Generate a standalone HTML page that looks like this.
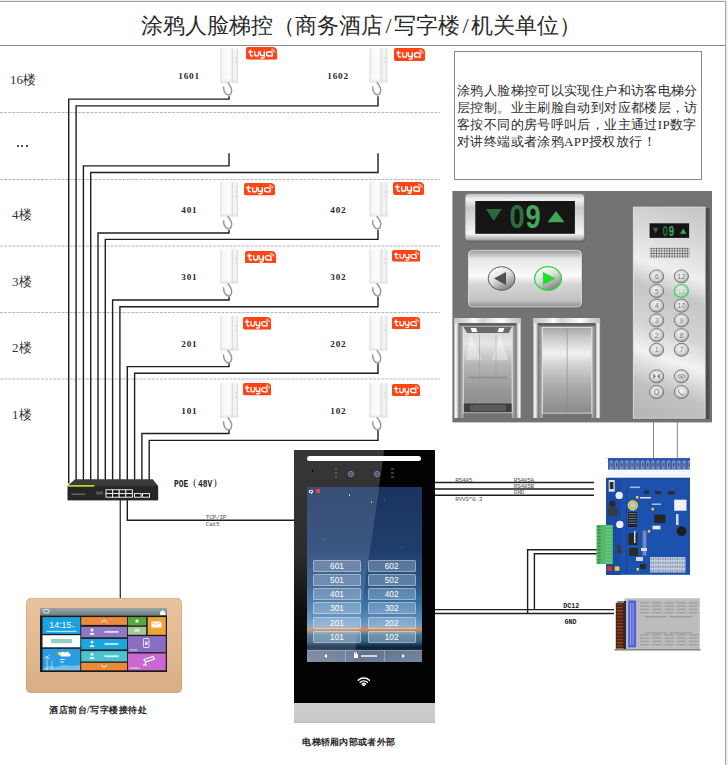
<!DOCTYPE html>
<html><head><meta charset="utf-8">
<style>
*{margin:0;padding:0;box-sizing:border-box}
html,body{width:728px;height:765px;overflow:hidden;background:#fff}
body{position:relative;font-family:"Liberation Serif",serif;color:#222}
.a{position:absolute}
.pb{position:absolute;width:48px;height:12px;border:1px solid rgba(255,255,255,0.36);border-radius:1.5px;background:rgba(215,225,242,0.3);color:#fff;font-family:"Liberation Sans",sans-serif;font-size:8.3px;line-height:10px;text-align:center}
.fl{position:absolute;left:10px;font-size:13px;line-height:13px;color:#333}
.rm{position:absolute;font-size:9.2px;line-height:10px;font-weight:bold;color:#2a2a2a;letter-spacing:0.85px}
.hs{position:absolute;width:18px;height:35px;border-radius:1px;
 background:linear-gradient(90deg,#e4e4e4 0,#f8f8f8 15%,#fdfdfd 50%,#ececec 66%,#d8d8d8 68%,#f4f4f4 72%,#f0f0f0 92%,#dcdcdc 100%)}
.hs:after{content:"";position:absolute;left:0;right:0;bottom:0;height:5px;background:linear-gradient(#f2f2f2,#e2e2e2)}
.cord{position:absolute;width:10px;height:14px}
.tuya{position:absolute;width:31px;height:13px;background:#ff4a14;border-radius:2px 4px 2px 2px;color:#fff;
 font-family:"Liberation Sans",sans-serif;font-weight:bold;font-size:10.5px;line-height:12px;text-align:center;letter-spacing:0.3px;padding-right:2px}
</style></head><body>

<!-- frame lines -->
<div class="a" style="left:0;top:0;width:728px;height:1px;background:#eef0f4"></div>
<div class="a" style="left:0;top:1.2px;width:726px;height:1.1px;background:#a2a2a2"></div>
<div class="a" style="left:0;top:45px;width:726px;height:1px;background:#8a8a8a"></div>
<div class="a" style="left:725px;top:1px;width:1.3px;height:764px;background:#a4a4a4"></div>
<div class="a" style="left:726.3px;top:0;width:1.7px;height:765px;background:#eef0f4"></div>

<div class="a" style="left:141px;top:13px;font-size:22px;line-height:26px;color:#2a2a2a;white-space:nowrap">涂鸦人脸梯控（商务酒店<span style="margin:0 2.45px">/</span>写字楼<span style="margin:0 2.45px">/</span>机关单位）</div>

<!-- dashed floor lines -->
<svg class="a" style="left:0;top:0" width="728" height="765">
<g stroke="#b8b8b8" stroke-width="1" stroke-dasharray="3 1.1">
<line x1="0" y1="112.5" x2="440" y2="112.5"/>
<line x1="0" y1="179.5" x2="440" y2="179.5"/>
<line x1="0" y1="246" x2="440" y2="246"/>
<line x1="0" y1="312.5" x2="440" y2="312.5"/>
<line x1="0" y1="379" x2="440" y2="379"/>
</g>
<g fill="none" stroke="#1e1e1e" stroke-width="1.4">
<path d="M229 96.2V99.1H68.7V483.5"/>
<path d="M378 96.2V105.9H76.1V481"/>
<path d="M229 153.2V165.9H83.4V481"/>
<path d="M378 153.2V172.5H90.7V481"/>
<path d="M229 229.8V233.0H98.0V481"/>
<path d="M378 229.8V239.4H105.3V481"/>
<path d="M229 296.5V300.0H112.6V481"/>
<path d="M378 296.5V306.8H119.9V481"/>
<path d="M229 363.2V366.6H127.3V481"/>
<path d="M378 363.2V373.3H134.6V481"/>
<path d="M229 430.0V433.5H141.9V481"/>
<path d="M378 430.0V440.4H149.2V481"/>
<!-- switch to tablet -->
<path d="M120.3 500V598" stroke="#333" stroke-width="1.3"/>
<!-- switch to panel TCP/IP -->
<path d="M127.3 500V520.3H294"/>
<!-- RS485 lines -->
<path d="M434 482.5H594M434 489H594M434 495.3H594"/>
<!-- elevator -> pcb wires -->
<path d="M653.5 422V459M677.3 422V459" stroke="#888" stroke-width="1"/>
<!-- DC12 / GND -->
<path d="M434 609.6H614M434 613.5H614"/>
<path d="M527.6 613.5V549.8H597M534.4 609.6V553.7H597"/>
</g>
</svg>

<!-- floor labels -->
<div class="fl" style="top:72.5px">16楼</div>
<div class="a" style="left:17px;top:145.4px;width:2.1px;height:2px;border-radius:50%;background:#111"></div><div class="a" style="left:21.2px;top:145.4px;width:2.1px;height:2px;border-radius:50%;background:#111"></div><div class="a" style="left:25.5px;top:145.4px;width:2.1px;height:2px;border-radius:50%;background:#111"></div>
<div class="fl" style="top:207.5px;left:12px">4楼</div>
<div class="fl" style="top:274.5px;left:12px">3楼</div>
<div class="fl" style="top:341px;left:12px">2楼</div>
<div class="fl" style="top:408px;left:12px">1楼</div>

<!-- room labels -->
<div class="rm" style="left:178.2px;top:71.4px">1601</div>
<div class="rm" style="left:327.2px;top:71.4px">1602</div>
<div class="rm" style="left:181.2px;top:205.4px">401</div>
<div class="rm" style="left:330.2px;top:205.4px">402</div>
<div class="rm" style="left:181.2px;top:272.4px">301</div>
<div class="rm" style="left:330.2px;top:272.4px">302</div>
<div class="rm" style="left:181.2px;top:338.9px">201</div>
<div class="rm" style="left:330.2px;top:338.9px">202</div>
<div class="rm" style="left:181.2px;top:405.9px">101</div>
<div class="rm" style="left:330.2px;top:405.9px">102</div>

<!-- handsets -->
<svg class="a" style="left:0;top:0" width="728" height="765">
<defs>
<linearGradient id="hsg" x1="0" y1="0" x2="1" y2="0">
<stop offset="0" stop-color="#dedede"/><stop offset="0.12" stop-color="#f6f6f6"/><stop offset="0.5" stop-color="#fdfdfd"/>
<stop offset="0.66" stop-color="#ececec"/><stop offset="0.7" stop-color="#f6f6f6"/><stop offset="0.9" stop-color="#f0f0f0"/><stop offset="1" stop-color="#d6d6d6"/>
</linearGradient>
<linearGradient id="hsv" x1="0" y1="0" x2="0" y2="1">
<stop offset="0" stop-color="#fff" stop-opacity="0"/><stop offset="0.85" stop-color="#fff" stop-opacity="0"/><stop offset="1" stop-color="#c8c8c8" stop-opacity="0.5"/>
</linearGradient>
<symbol id="tuyaS" viewBox="0 0 31 13" preserveAspectRatio="none">
<path d="M0 2a2 2 0 0 1 2-2h24.5a4.5 4.5 0 0 1 4.5 4.5v6.5a2 2 0 0 1-2 2H2a2 2 0 0 1-2-2z" fill="#ff4516"/>
<g fill="none" stroke="#fff" stroke-width="1.4" stroke-linecap="round" stroke-linejoin="round">
<path d="M4.3 3.1V7.3Q4.3 9.2 6.6 9.2"/><path d="M2.7 4.9H6.3"/>
<path d="M8.6 4.8V7.2Q8.6 9.2 10.6 9.2Q12.6 9.2 12.6 7.2V4.8"/>
<path d="M14.2 4.8V6.9Q14.2 8.8 16.2 8.8Q18.2 8.8 18.2 6.9V4.8M18.2 6.9V9.6Q18.2 11.2 16.3 11.2H15"/>
<path d="M26.2 9.2V7Q26.2 4.8 23.2 4.8Q20.3 4.8 20.3 7Q20.3 9.2 23.2 9.2H26.2"/>
</g>
<g fill="none" stroke="#fff" stroke-width="0.75" stroke-linecap="round">
<path d="M25.6 2.1A2.9 2.9 0 0 1 29 5"/><path d="M25.7 3.5A1.5 1.5 0 0 1 27.5 5"/>
</g>
</symbol>
<symbol id="hs" overflow="visible">
<rect x="0" y="0" width="18" height="34.5" rx="1" fill="url(#hsg)"/>
<rect x="0" y="0" width="18" height="34.5" rx="1" fill="url(#hsv)"/>
<rect x="12" y="0.5" width="0.7" height="34" fill="#d4d4d4"/>
<rect x="15.3" y="9" width="0.8" height="2" fill="#cfcfcf"/>
<rect x="15.3" y="13" width="0.8" height="2" fill="#cfcfcf"/>
<path d="M7.4 34.2C9.5 36.7 11.6 39 11.4 42.5C11.2 45.5 9.5 46.8 8.3 46.8C5.5 46.8 3.2 43 3.3 38.2" fill="none" stroke="#9a9a9a" stroke-width="1.5"/>
</symbol>
</defs>
<use href="#hs" x="220.2" y="48.3"/>
<use href="#hs" x="220.2" y="182"/>
<use href="#hs" x="220.2" y="249.1"/>
<use href="#hs" x="220.2" y="316"/>
<use href="#hs" x="220.2" y="383"/>
<use href="#hs" x="369.3" y="48"/>
<use href="#hs" x="369.3" y="182"/>
<use href="#hs" x="369.3" y="249.1"/>
<use href="#hs" x="369.3" y="316"/>
<use href="#hs" x="369.3" y="383"/>
</svg>

<svg class="a" style="left:245.5px;top:47px" width="31.2" height="12.8"><use href="#tuyaS" width="31.2" height="12.8"/></svg>
<svg class="a" style="left:243.7px;top:183px" width="31.1" height="12.5"><use href="#tuyaS" width="31.1" height="12.5"/></svg>
<svg class="a" style="left:244.5px;top:250.8px" width="31" height="12.7"><use href="#tuyaS" width="31" height="12.7"/></svg>
<svg class="a" style="left:242.5px;top:317.3px" width="28.4" height="12.7"><use href="#tuyaS" width="28.4" height="12.7"/></svg>
<svg class="a" style="left:242.9px;top:383.3px" width="28.5" height="12.5"><use href="#tuyaS" width="28.5" height="12.5"/></svg>
<svg class="a" style="left:393.7px;top:48.1px" width="31.1" height="12.9"><use href="#tuyaS" width="31.1" height="12.9"/></svg>
<svg class="a" style="left:393px;top:182px" width="31.2" height="13"><use href="#tuyaS" width="31.2" height="13"/></svg>
<svg class="a" style="left:391.8px;top:249.8px" width="28.7" height="11.8"><use href="#tuyaS" width="28.7" height="11.8"/></svg>
<svg class="a" style="left:391.8px;top:317.3px" width="28.7" height="12.3"><use href="#tuyaS" width="28.7" height="12.3"/></svg>
<svg class="a" style="left:391.8px;top:383.8px" width="28.2" height="12.2"><use href="#tuyaS" width="28.2" height="12.2"/></svg>

<!-- text box -->
<div class="a" style="left:454px;top:51px;width:248px;height:129px;border:1px solid #8a8a8a"></div>
<div class="a" style="left:457px;top:82px;width:244px;font-size:13px;line-height:17px;color:#2c2c2c;letter-spacing:0.38px">涂鸦人脸梯控可以实现住户和访客电梯分层控制。业主刷脸自动到对应都楼层，访客按不同的房号呼叫后，业主通过IP数字对讲终端或者涂鸦APP授权放行！</div>

<!-- DEVICES -->
<!-- POE switch -->
<svg class="a" style="left:0;top:0" width="728" height="765">
<polygon points="75,479.2 152.7,479.2 158.2,486 67.5,486" fill="#3b3b3b"/>
<rect x="67.5" y="486" width="90.7" height="14.4" fill="#262626"/>
<polygon points="68.2,485 94.3,485 94.3,486.8 67.6,486.8" fill="#c4d21c"/>
<rect x="71.5" y="493.6" width="14" height="1.2" fill="#777"/>
<rect x="96" y="491.5" width="7" height="3" fill="#555"/>
<g fill="#151515" stroke="#eeeeee" stroke-width="1">
<rect x="106" y="489.8" width="6.6" height="3.6"/><rect x="112.6" y="489.8" width="6.6" height="3.6"/><rect x="119.2" y="489.8" width="6.6" height="3.6"/><rect x="125.8" y="489.8" width="6.6" height="3.6"/>
<rect x="106" y="493.6" width="6.6" height="3.6"/><rect x="112.6" y="493.6" width="6.6" height="3.6"/><rect x="119.2" y="493.6" width="6.6" height="3.6"/><rect x="125.8" y="493.6" width="6.6" height="3.6"/>
<rect x="134.5" y="493.6" width="6.6" height="3.6"/><rect x="142.5" y="493.6" width="7" height="3.6"/>
</g>
</svg>
<div class="a" style="left:174.3px;top:480px;font-size:10px;line-height:10px;color:#222;font-weight:bold;font-family:'Liberation Mono',monospace;transform:scaleX(0.79);transform-origin:0 0">POE</div>
<div class="a" style="left:193.3px;top:478.4px;font-size:9.6px;line-height:10px;color:#222">(</div>
<div class="a" style="left:198px;top:480px;font-size:10px;line-height:10px;color:#222;font-weight:bold;font-family:'Liberation Mono',monospace;transform:scaleX(0.79);transform-origin:0 0">48V</div>
<div class="a" style="left:213.4px;top:478.4px;font-size:9.6px;line-height:10px;color:#222">)</div>
<div class="a" style="left:205.8px;top:514.8px;font-size:6.2px;line-height:6.7px;letter-spacing:-0.3px;color:#555;font-family:'Liberation Mono',monospace">TCP/IP<br>Cat5</div>

<!-- door station panel -->
<div class="a" style="left:294px;top:450px;width:140.5px;height:253px;background:#020202;overflow:hidden">
 <div class="a" style="left:0;top:0;width:100%;height:100%;background:linear-gradient(180deg,rgba(255,255,255,0.21) 0,rgba(255,255,255,0.17) 40%,rgba(255,255,255,0.06) 62%,rgba(255,255,255,0) 78%);clip-path:polygon(0 0,64.3% 0,42.5% 83.4%,0 83.4%)"></div>
 <div class="a" style="left:13px;top:5.8px;width:114px;height:5px;border-radius:3px;background:#fff"></div>
 <div class="a" style="left:53.6px;top:21.4px;width:6px;height:6px;border-radius:50%;background:radial-gradient(#3a6ad0 30%,#1a2a50 70%);border:1px solid #9a9a9a"></div>
 <div class="a" style="left:80.4px;top:21.4px;width:6px;height:6px;border-radius:50%;background:radial-gradient(#3a6ad0 30%,#1a2a50 70%);border:1px solid #9a9a9a"></div>
 <div class="a" style="left:41px;top:17.5px;width:2.4px;height:12px;background:repeating-linear-gradient(#5a5a5a 0,#5a5a5a 2.4px,transparent 2.4px,transparent 4px)"></div>
 <div class="a" style="left:97.2px;top:17.5px;width:2.4px;height:12px;background:repeating-linear-gradient(#3a3a3a 0,#3a3a3a 2.4px,transparent 2.4px,transparent 4px)"></div>
 <div class="a" style="left:17.5px;top:20px;width:1.5px;height:1.5px;background:#000"></div>
</div>
<div class="a" style="left:294px;top:702.5px;width:140.5px;height:20px;background:linear-gradient(#cfcfcf,#cacaca 85%,#bdbdbd)"></div>
<!-- screen -->
<div class="a" style="left:307px;top:487px;width:115px;height:174.5px;overflow:hidden;
 background:linear-gradient(180deg,#1b335e 0%,#1f3d6c 35%,#285686 56%,#3a74a8 68%,#5e93c0 77%,#7a9cbc 79.6%,#c09080 80.9%,#d88a4a 81.8%,#7a8a98 83%,#3f7292 84.5%,#356585 88%,#0f2038 91.5%,#1a2c44 93%,#3c5470 100%)">
 <div class="a" style="left:0;top:0;width:100%;height:100%;background:rgba(200,212,235,0.17);clip-path:polygon(0 0,62.9% 0,40.5% 100%,0 100%)"></div>
 <div class="a" style="left:2.3px;top:2.5px;width:4.2px;height:3.3px;border:0.8px solid #ddd"></div><div class="a" style="left:3.6px;top:6px;width:1.6px;height:0.8px;background:#ddd"></div>
 <div class="a" style="left:8.7px;top:2.2px;width:4.5px;height:4.3px;background:#e8483c;border-radius:0.5px"></div>
 <div class="a" style="left:41.8px;top:7.3px;width:1.5px;height:1.5px;background:#dde6f5;border-radius:50%"></div>
 <div class="a" style="left:64px;top:14.3px;width:1.3px;height:1.3px;background:#b8c8e0;border-radius:50%"></div>
 <div class="a" style="left:77px;top:13px;width:1.2px;height:1.2px;background:#6aa0d8;border-radius:50%"></div>
 <div class="a" style="left:17px;top:52px;width:1.3px;height:1.3px;background:#7aaede;border-radius:50%"></div>
 <div class="a" style="left:93.5px;top:60px;width:1.2px;height:1.2px;background:#5c9ad0;border-radius:50%"></div>
 <div class="pb" style="left:6px;top:72.50px">601</div>
 <div class="pb" style="left:60.6px;top:72.50px">602</div>
 <div class="pb" style="left:6px;top:86.78px">501</div>
 <div class="pb" style="left:60.6px;top:86.78px">502</div>
 <div class="pb" style="left:6px;top:101.06px">401</div>
 <div class="pb" style="left:60.6px;top:101.06px">402</div>
 <div class="pb" style="left:6px;top:115.34px">301</div>
 <div class="pb" style="left:60.6px;top:115.34px">302</div>
 <div class="pb" style="left:6px;top:129.62px">201</div>
 <div class="pb" style="left:60.6px;top:129.62px">202</div>
 <div class="pb" style="left:6px;top:143.90px">101</div>
 <div class="pb" style="left:60.6px;top:143.90px">102</div>
 <div class="a" style="left:0;top:162.5px;width:115px;height:12px;background:linear-gradient(90deg,rgba(150,160,185,0.75),rgba(125,140,168,0.7) 50%,rgba(140,155,180,0.72));border-top:1px solid rgba(255,255,255,0.25)"></div>
 <div class="a" style="left:38px;top:163px;width:1px;height:12px;background:rgba(255,255,255,0.3)"></div>
 <div class="a" style="left:76.5px;top:163px;width:1px;height:12px;background:rgba(255,255,255,0.3)"></div>
 <div class="a" style="left:17px;top:166.5px;width:0;height:0;border-top:2px solid transparent;border-bottom:2px solid transparent;border-right:3px solid #fff"></div>
 <div class="a" style="left:95px;top:166.5px;width:0;height:0;border-top:2px solid transparent;border-bottom:2px solid transparent;border-left:3px solid #fff"></div>
 <div class="a" style="left:46.5px;top:167px;width:4px;height:4px;background:#fff;border-radius:0.5px"></div>
 <div class="a" style="left:47.2px;top:164.5px;width:2.6px;height:3.5px;border:0.8px solid #fff;border-bottom:none;border-radius:1.5px 1.5px 0 0"></div>
 <div class="a" style="left:54px;top:167.5px;width:16px;height:2.5px;background:rgba(255,255,255,0.7)"></div>
</div>
<!-- wifi -->
<svg class="a" style="left:357.4px;top:676.6px" width="13.6" height="9.6" viewBox="0 0 17 12">
<g fill="none" stroke="#fff" stroke-width="1.8" stroke-linecap="round">
<path d="M1.5 4.2A10 10 0 0 1 15.5 4.2"/><path d="M3.9 6.7A6.6 6.6 0 0 1 13.1 6.7"/><path d="M6.3 8.9A3.3 3.3 0 0 1 10.7 8.9"/>
</g><circle cx="8.5" cy="10.7" r="1.6" fill="#fff"/>
</svg>
<div class="a" style="left:302.3px;top:736.6px;font-size:9.2px;line-height:10px;font-weight:bold;color:#2a2a2a;letter-spacing:0.3px">电梯轿厢内部或者外部</div>

<!-- tablet -->
<div class="a" style="left:25.8px;top:597.5px;width:156.5px;height:95.3px;border-radius:5px;background:linear-gradient(180deg,#e9c39d,#e3ba93 45%,#d9ae86);box-shadow:inset 0 0 0 0.6px rgba(160,120,80,0.35)"></div>
<svg class="a" style="left:40px;top:608px" width="127" height="64.4" viewBox="40 608 127 64.4">
<defs><linearGradient id="tb" x1="0" y1="0" x2="0" y2="1"><stop offset="0" stop-color="#98a4a8"/><stop offset="1" stop-color="#6f7d83"/></linearGradient></defs>
<rect x="40" y="608" width="127" height="64.4" fill="#1b1b1b"/>
<rect x="40" y="608" width="127" height="7.6" fill="url(#tb)"/>
<rect x="43.6" y="609.6" width="5.4" height="3.4" rx="1" fill="none" stroke="#fff" stroke-width="0.8"/>
<path d="M160 612.3l2.7-2.4 2.7 2.4v2.6h-5.4z" fill="#fff"/>
<rect x="42.5" y="617.1" width="37.8" height="16.8" fill="#1aa3df"/>
<text x="49.3" y="628" font-family="Liberation Sans" font-size="8.8" fill="#fff" letter-spacing="0">14:15</text>
<rect x="72" y="626.3" width="2.6" height="0.9" fill="#fff" opacity="0.7"/>
<rect x="46.5" y="630.8" width="30" height="1.3" fill="#d8f0ff" opacity="0.8"/>
<rect x="42.5" y="635.2" width="37.8" height="12.1" fill="#fff"/>
<rect x="51" y="639" width="21" height="4.2" fill="#3aa8a0" opacity="0.55"/>
<rect x="42.5" y="648.8" width="37.8" height="21.5" fill="#2b9be2"/>
<path d="M47 656v14M49.5 655l-2.5 2-3 1M47 657l3 2" stroke="#fff" stroke-width="0.6" fill="none"/>
<path d="M52 661v9" stroke="#fff" stroke-width="0.5"/>
<circle cx="59.4" cy="653.6" r="1.8" fill="#f5d530"/>
<path d="M61 656.5h8a1.6 1.6 0 0 0 0-3.2 2.2 2.2 0 0 0-4-.6 1.8 1.8 0 0 0-4 3.8z" fill="#fff"/>
<rect x="60" y="659" width="5" height="1" fill="#fff" opacity="0.8"/><rect x="60" y="661.5" width="4" height="1" fill="#fff" opacity="0.8"/>
<path d="M44 668l6-2 6 1 8-2 8 1 8-1v5.3H42.5z" fill="#fff" opacity="0.35"/>
<rect x="81.2" y="617.1" width="45.8" height="7.8" fill="#ed8a3a"/>
<path d="M101.2 622.5l3-2.5 3 2.5" stroke="#fff" stroke-width="1" fill="none"/>
<rect x="81.2" y="626.8" width="45.8" height="10.5" fill="#8f78c4"/>
<rect x="81.2" y="638.9" width="45.8" height="10.5" fill="#1ba6e0"/>
<rect x="81.2" y="651.1" width="45.8" height="10.4" fill="#4cc3cf"/>
<rect x="81.2" y="662.8" width="45.8" height="7.5" fill="#ed8a3a"/>
<path d="M101.2 665l3 2.5 3-2.5" stroke="#fff" stroke-width="1" fill="none"/>
<g fill="#fff">
<circle cx="92" cy="630" r="1.4"/><path d="M89.7 634.8a2.3 2 0 0 1 4.6 0z"/>
<circle cx="92" cy="642.1" r="1.4"/><path d="M89.7 646.9a2.3 2 0 0 1 4.6 0z"/>
<circle cx="92" cy="654.3" r="1.4"/><path d="M89.7 659.1a2.3 2 0 0 1 4.6 0z"/>
<rect x="104.5" y="631" width="14" height="1.8" opacity="0.75"/>
<rect x="104.5" y="643.1" width="14" height="1.8" opacity="0.75"/>
<rect x="104.5" y="655.3" width="14" height="1.8" opacity="0.75"/>
</g>
<rect x="127.9" y="617.1" width="18.3" height="8.4" fill="#58a83c"/>
<path d="M135.5 622.5v-2l1.5-1.3 1.5 1.3v2z" fill="#fff"/>
<rect x="127.9" y="626.8" width="18.3" height="8" fill="#a6c796"/>
<rect x="134.5" y="628.8" width="5" height="3" fill="#e8f0e8" opacity="0.8"/>
<rect x="147.7" y="617.1" width="18.1" height="17.7" fill="#eea43a"/>
<rect x="151.5" y="621.5" width="10" height="6" fill="#fff"/>
<path d="M151.5 621.5l5 3.3 5-3.3" stroke="#eea43a" stroke-width="0.7" fill="none"/>
<rect x="127.9" y="636.1" width="37.9" height="16.1" fill="#8a6dc2"/>
<rect x="143.5" y="638.5" width="5.5" height="9" rx="0.8" fill="none" stroke="#fff" stroke-width="0.8"/>
<rect x="145" y="641.5" width="2.5" height="3.5" fill="#fff" opacity="0.8"/>
<rect x="129.5" y="649.3" width="8" height="1.2" fill="#fff" opacity="0.6"/>
<rect x="127.9" y="653.5" width="37.9" height="16.8" fill="#c769d1"/>
<path d="M144 659.5l9-3 1.5 2.5-9 3zM146 661.5l-1 3.5M143 665h4" stroke="#fff" stroke-width="1.2" fill="none"/>
<rect x="129.5" y="667.5" width="10" height="1.2" fill="#fff" opacity="0.6"/>
</svg>
<div class="a" style="left:49px;top:704.6px;font-size:9.4px;line-height:10px;font-weight:bold;color:#2a2a2a;letter-spacing:0.5px">酒店前台/写字楼接待处</div>

<!-- elevator picture -->
<svg class="a" style="left:0;top:0" width="728" height="765">
<defs>
<linearGradient id="slv" x1="0" y1="0" x2="0" y2="1">
<stop offset="0" stop-color="#b9b9b9"/><stop offset="0.12" stop-color="#f4f4f4"/><stop offset="0.3" stop-color="#c9c9c9"/><stop offset="0.5" stop-color="#d8d8d8"/>
<stop offset="0.85" stop-color="#f6f6f6"/><stop offset="1" stop-color="#9c9c9c"/></linearGradient>
<linearGradient id="slv2" x1="0" y1="0" x2="0" y2="1">
<stop offset="0" stop-color="#9a9a9a"/><stop offset="0.15" stop-color="#e6e6e6"/><stop offset="0.45" stop-color="#fbfbfb"/><stop offset="0.6" stop-color="#d4d4d4"/>
<stop offset="0.88" stop-color="#c4c4c4"/><stop offset="1" stop-color="#8e8e8e"/></linearGradient>
<linearGradient id="door" x1="0" y1="0" x2="0" y2="1">
<stop offset="0" stop-color="#a6a6a6"/><stop offset="0.12" stop-color="#c8c8c8"/><stop offset="0.3" stop-color="#f2f2f2"/><stop offset="0.45" stop-color="#cfcfcf"/>
<stop offset="0.7" stop-color="#a9a9a9"/><stop offset="1" stop-color="#8a8a8a"/></linearGradient>
<linearGradient id="cab" x1="0" y1="0" x2="0" y2="1">
<stop offset="0" stop-color="#cfcfcf"/><stop offset="0.2" stop-color="#e6e6e6"/><stop offset="0.45" stop-color="#b4b4b4"/>
<stop offset="0.75" stop-color="#979797"/><stop offset="1" stop-color="#888"/></linearGradient>
<linearGradient id="frv" x1="0" y1="0" x2="1" y2="0">
<stop offset="0" stop-color="#9a9a9a"/><stop offset="0.25" stop-color="#fafafa"/><stop offset="0.55" stop-color="#c8c8c8"/><stop offset="0.8" stop-color="#f0f0f0"/><stop offset="1" stop-color="#808080"/></linearGradient>
<linearGradient id="frh" x1="0" y1="0" x2="0" y2="1">
<stop offset="0" stop-color="#a0a0a0"/><stop offset="0.3" stop-color="#f6f6f6"/><stop offset="0.6" stop-color="#d0d0d0"/><stop offset="1" stop-color="#7a7a7a"/></linearGradient>
<linearGradient id="sL" x1="0" y1="0" x2="1" y2="0"><stop offset="0" stop-color="#a8a8a8"/><stop offset="0.35" stop-color="#fbfbfb"/><stop offset="0.65" stop-color="#d6d6d6"/><stop offset="1" stop-color="#a0a0a0"/></linearGradient>
<linearGradient id="sR" x1="0" y1="0" x2="1" y2="0"><stop offset="0" stop-color="#a0a0a0"/><stop offset="0.35" stop-color="#d6d6d6"/><stop offset="0.65" stop-color="#fbfbfb"/><stop offset="1" stop-color="#a8a8a8"/></linearGradient>
<linearGradient id="tB" x1="0" y1="0" x2="1" y2="0"><stop offset="0" stop-color="#c4c4c4"/><stop offset="0.2" stop-color="#e0e0e0"/><stop offset="0.3" stop-color="#fdfdfd"/><stop offset="0.42" stop-color="#d4d4d4"/><stop offset="0.55" stop-color="#e8e8e8"/><stop offset="0.72" stop-color="#fdfdfd"/><stop offset="0.85" stop-color="#d8d8d8"/><stop offset="1" stop-color="#c0c0c0"/></linearGradient>
<linearGradient id="rL" x1="0" y1="0" x2="1" y2="0"><stop offset="0" stop-color="#767676"/><stop offset="1" stop-color="#b8b8b8"/></linearGradient>
<linearGradient id="rR" x1="0" y1="0" x2="1" y2="0"><stop offset="0" stop-color="#b8b8b8"/><stop offset="1" stop-color="#767676"/></linearGradient>
<linearGradient id="rT" x1="0" y1="0" x2="0" y2="1"><stop offset="0" stop-color="#3c3c3c"/><stop offset="1" stop-color="#9a9a9a"/></linearGradient>
<linearGradient id="cp" gradientUnits="userSpaceOnUse" x1="705" y1="207" x2="633" y2="418">
<stop offset="0" stop-color="#c4c4c4"/><stop offset="0.18" stop-color="#dadada"/><stop offset="0.32" stop-color="#efefef"/><stop offset="0.42" stop-color="#c6c6c6"/>
<stop offset="0.58" stop-color="#d4d4d4"/><stop offset="0.7" stop-color="#f2f2f2"/><stop offset="0.84" stop-color="#c2c2c2"/><stop offset="1" stop-color="#b4b4b4"/></linearGradient>
<radialGradient id="btn" cx="0.45" cy="0.4" r="0.6">
<stop offset="0" stop-color="#f8f8f8"/><stop offset="0.7" stop-color="#d2d2d2"/><stop offset="1" stop-color="#9a9a9a"/></radialGradient>
<linearGradient id="btn2" x1="0.25" y1="0.1" x2="0.75" y2="0.95"><stop offset="0" stop-color="#fdfdfd"/><stop offset="0.45" stop-color="#dadada"/><stop offset="1" stop-color="#7e7e7e"/></linearGradient>
<pattern id="grl" width="2.6" height="2.6" patternUnits="userSpaceOnUse"><circle cx="1.3" cy="1.3" r="0.85" fill="#333"/></pattern>
</defs>
<rect x="452.4" y="191" width="259.6" height="231.4" fill="#737373"/>
<!-- floor display -->
<rect x="466" y="195" width="119.4" height="47.3" rx="3.5" fill="#5a5a5a" opacity="0.6"/>
<rect x="465" y="193.5" width="119.4" height="47.3" rx="3.5" fill="url(#slv)" stroke="#7a7a7a" stroke-width="0.8"/>
<rect x="475.3" y="201" width="99.6" height="32.8" fill="#151515"/>
<polygon points="485.8,208.9 501.8,208.9 493.8,220.8" fill="#2d6a3b"/>
<polygon points="547.6,222.2 564.5,222.2 556,210.9" fill="#3fa75a"/>
<text x="509.6" y="228" font-family="Liberation Sans" font-weight="bold" font-size="32.5" fill="#2f6c3f" transform="translate(509.6 0) scale(0.84 1) translate(-509.6 0)">0</text>
<text x="525.4" y="228" font-family="Liberation Sans" font-weight="bold" font-size="32.5" fill="#43a75c" transform="translate(525.4 0) scale(0.84 1) translate(-525.4 0)">9</text>
<!-- call buttons -->
<rect x="469.5" y="252" width="113" height="56.6" rx="4" fill="#555" opacity="0.5"/>
<rect x="468.5" y="250.4" width="113" height="56.6" rx="4" fill="url(#slv2)" stroke="#e4e4e4" stroke-width="0.8"/>
<ellipse cx="501.6" cy="278.5" rx="13.4" ry="11.8" fill="url(#btn2)" stroke="#5a5a5a" stroke-width="1"/>
<polygon points="494,278.5 506,272 506,285" fill="#505050"/>
<ellipse cx="548" cy="278.5" rx="13.4" ry="11.8" fill="url(#btn2)" stroke="#22dd33" stroke-width="1.3"/>
<polygon points="555.5,278.5 543,272 543,285" fill="#1ee02a"/>
<!-- open cabin door -->
<rect x="454" y="318" width="4.8" height="100" fill="url(#sL)"/>
<rect x="516.2" y="318" width="4.8" height="100" fill="url(#sR)"/>
<rect x="454" y="318" width="67" height="5.4" fill="url(#tB)"/>
<rect x="458.8" y="323.4" width="4.6" height="94.6" fill="url(#rL)"/>
<rect x="511.9" y="323.4" width="4.4" height="94.6" fill="url(#rR)"/>
<rect x="458.8" y="323.4" width="57.4" height="3.4" fill="url(#rT)"/>
<rect x="463.3" y="326.6" width="48.8" height="86.1" fill="url(#cab)" stroke="#eee" stroke-width="0.8"/>
<polygon points="463.3,326.6 512.1,326.6 508.5,333 467,333" fill="#6a6a6a"/>
<polygon points="470.5,328 476,328 477.5,332 472,332" fill="#f8f8f8"/>
<polygon points="499,328 504.5,328 503,332 497.5,332" fill="#f8f8f8"/>
<path d="M470 334 L466 360 L482 360 Z M500 334 L492 360 L508 360 Z" fill="#fff" opacity="0.35"/>
<line x1="479.5" y1="334.5" x2="479.5" y2="404" stroke="#9a9a9a" stroke-width="0.5"/>
<line x1="496" y1="334.5" x2="496" y2="404" stroke="#9a9a9a" stroke-width="0.5"/>
<rect x="468.5" y="376.7" width="38.5" height="1.6" fill="#8f8f8f"/>
<rect x="463.8" y="403.5" width="47.8" height="8.8" fill="#3e3e3e"/>
<rect x="470" y="405" width="36" height="6" fill="#707070" opacity="0.6"/>
<!-- closed door -->
<rect x="533.1" y="318" width="4.8" height="100" fill="url(#sL)"/>
<rect x="595.3" y="318" width="4.8" height="100" fill="url(#sR)"/>
<rect x="533.1" y="318" width="67" height="5.4" fill="url(#tB)"/>
<rect x="537.9" y="323.4" width="4.8" height="94.6" fill="url(#rL)"/>
<rect x="591.7" y="323.4" width="3.7" height="94.6" fill="url(#rR)"/>
<rect x="537.9" y="323.4" width="57.4" height="3.8" fill="url(#rT)"/>
<rect x="542.6" y="327.4" width="49.2" height="85.7" fill="url(#door)" stroke="#eee" stroke-width="0.8"/>
<line x1="567.2" y1="328" x2="567.2" y2="413" stroke="#8a8a8a" stroke-width="0.6"/>
<!-- car operating panel -->
<rect x="705" y="208" width="4.5" height="211" fill="#4d4d4d"/>
<rect x="633.3" y="207.1" width="71.8" height="211" fill="url(#cp)" stroke="#e6e6e6" stroke-width="0.8"/>
<rect x="649.6" y="223.3" width="39.5" height="14.6" fill="#141414"/>
<polygon points="652.8,227.8 658.3,227.8 655.6,233.6" fill="#2f6c3f"/>
<polygon points="680,233.8 686.5,233.8 683.2,228.4" fill="#3fa75a"/>
<text x="662.4" y="235.6" font-family="Liberation Sans" font-weight="bold" font-size="14" fill="#2f6c3f" transform="translate(662.4 0) scale(0.7 1) translate(-662.4 0)">0</text>
<text x="668.8" y="235.6" font-family="Liberation Sans" font-weight="bold" font-size="14" fill="#43a75c" transform="translate(668.8 0) scale(0.7 1) translate(-668.8 0)">9</text>
<rect x="649.6" y="247.7" width="40" height="10.4" fill="url(#grl)"/>
<g font-family="Liberation Sans" font-size="7" fill="#666" text-anchor="middle">
<ellipse cx="656.6" cy="276.4" rx="7.1" ry="6.5" fill="url(#btn)" stroke="#6a6a6a" stroke-width="0.85"/>
<text x="656.6" y="278.9" stroke="none" fill="#777">6</text>
<ellipse cx="681.4" cy="276.4" rx="7.1" ry="6.5" fill="url(#btn)" stroke="#6a6a6a" stroke-width="0.85"/>
<text x="681.4" y="278.9" stroke="none" fill="#777">12</text>
<ellipse cx="656.6" cy="291.0" rx="7.1" ry="6.5" fill="url(#btn)" stroke="#6a6a6a" stroke-width="0.85"/>
<text x="656.6" y="293.5" stroke="none" fill="#777">5</text>
<ellipse cx="681.4" cy="291.0" rx="7.1" ry="6.5" fill="url(#btn)" stroke="#2ee05a" stroke-width="1.2"/>
<text x="681.4" y="293.5" stroke="none" fill="#7ad07a">11</text>
<ellipse cx="656.6" cy="305.7" rx="7.1" ry="6.5" fill="url(#btn)" stroke="#6a6a6a" stroke-width="0.85"/>
<text x="656.6" y="308.2" stroke="none" fill="#777">4</text>
<ellipse cx="681.4" cy="305.7" rx="7.1" ry="6.5" fill="url(#btn)" stroke="#6a6a6a" stroke-width="0.85"/>
<text x="681.4" y="308.2" stroke="none" fill="#777">10</text>
<ellipse cx="656.6" cy="320.4" rx="7.1" ry="6.5" fill="url(#btn)" stroke="#6a6a6a" stroke-width="0.85"/>
<text x="656.6" y="322.9" stroke="none" fill="#777">3</text>
<ellipse cx="681.4" cy="320.4" rx="7.1" ry="6.5" fill="url(#btn)" stroke="#6a6a6a" stroke-width="0.85"/>
<text x="681.4" y="322.9" stroke="none" fill="#777">9</text>
<ellipse cx="656.6" cy="335.1" rx="7.1" ry="6.5" fill="url(#btn)" stroke="#6a6a6a" stroke-width="0.85"/>
<text x="656.6" y="337.6" stroke="none" fill="#777">2</text>
<ellipse cx="681.4" cy="335.1" rx="7.1" ry="6.5" fill="url(#btn)" stroke="#6a6a6a" stroke-width="0.85"/>
<text x="681.4" y="337.6" stroke="none" fill="#777">8</text>
<ellipse cx="656.6" cy="349.8" rx="7.1" ry="6.5" fill="url(#btn)" stroke="#6a6a6a" stroke-width="0.85"/>
<text x="656.6" y="352.3" stroke="none" fill="#777">1</text>
<ellipse cx="681.4" cy="349.8" rx="7.1" ry="6.5" fill="url(#btn)" stroke="#6a6a6a" stroke-width="0.85"/>
<text x="681.4" y="352.3" stroke="none" fill="#777">7</text>
<ellipse cx="656.6" cy="376.3" rx="7.1" ry="6.5" fill="url(#btn)" stroke="#6a6a6a" stroke-width="0.85"/>
<ellipse cx="681.4" cy="376.3" rx="7.1" ry="6.5" fill="url(#btn)" stroke="#6a6a6a" stroke-width="0.85"/>
<ellipse cx="656.6" cy="392.0" rx="7.1" ry="6.5" fill="url(#btn)" stroke="#6a6a6a" stroke-width="0.85"/>
<ellipse cx="681.4" cy="392.0" rx="7.1" ry="6.5" fill="url(#btn)" stroke="#6a6a6a" stroke-width="0.85"/>
<path d="M653.5 373.5l2.5 2.8-2.5 2.8zM659.7 373.5l-2.5 2.8 2.5 2.8z" fill="#777"/>
<ellipse cx="681.4" cy="376.3" rx="3.3" ry="1.8" fill="none" stroke="#777" stroke-width="0.8"/><circle cx="681.4" cy="376.3" r="0.9" fill="#777"/>
<rect x="654.8" y="389.5" width="3.6" height="5" rx="0.6" fill="none" stroke="#777" stroke-width="0.8"/>
<path d="M679 389.5c-1 1.2 0 3.5 2 4.8 1.3 0.8 2.2 0.6 2.6 0.2" fill="none" stroke="#777" stroke-width="0.9"/>
</g>
</svg>

<!-- PCB -->
<svg class="a" style="left:0;top:0" width="728" height="765">
<defs>
<pattern id="term" width="5.2" height="12" patternUnits="userSpaceOnUse" x="609" y="458.3">
<rect width="5.2" height="12" fill="#3d5fae"/><rect x="0.8" y="3" width="3" height="7.5" fill="#8a9cc6"/><rect x="1.6" y="4.5" width="1.4" height="4" fill="#34487c"/><rect x="2" y="1" width="1" height="1.6" fill="#c0cae0"/></pattern>
<pattern id="hdr" width="2.4" height="4" patternUnits="userSpaceOnUse" x="650" y="557">
<rect width="2.4" height="4" fill="#c8d0e0"/><rect x="0.5" y="0.5" width="1.2" height="2.6" fill="#8090b0"/></pattern>
<pattern id="gterm" width="16" height="3.3" patternUnits="userSpaceOnUse" x="596.5" y="525">
<rect width="16" height="3.3" fill="#56b86a"/><rect x="1" y="0.8" width="3" height="1.6" fill="#3a8a4c"/><rect x="9" y="1" width="6" height="1.2" fill="#74cc84"/></pattern>
</defs>
<rect x="606" y="458.3" width="84" height="116.5" fill="#1c51ae"/>
<rect x="606" y="458.3" width="2" height="20" fill="#fff"/>
<rect x="608" y="458.3" width="82" height="11.2" fill="url(#term)"/>
<rect x="608" y="458.3" width="82" height="2" fill="#2a56b0"/>
<rect x="608" y="469.5" width="82" height="8.4" fill="#f3f5f8"/>
<rect x="606" y="477.8" width="84" height="1.5" fill="#1a4aa0"/>
<rect x="606" y="479" width="15" height="96" fill="#1a4aa3"/>
<rect x="626" y="486" width="1" height="88" fill="#16429a"/>
<rect x="608.7" y="480" width="6" height="11.7" fill="#e0ddd8"/><rect x="609.8" y="482" width="3.6" height="7" fill="#2a2a2a"/>
<circle cx="619.2" cy="495.4" r="3.7" fill="#e9ecf1"/>
<circle cx="612.4" cy="504" r="3.4" fill="#2a2a2a"/>
<rect x="608" y="507.8" width="9.3" height="8" fill="#3a3a3a"/>
<circle cx="632.8" cy="505.3" r="4.4" fill="none" stroke="#f1ea22" stroke-width="1.5"/><circle cx="632.8" cy="505.3" r="3.4" fill="#c8c8c8"/>
<circle cx="619.8" cy="524.4" r="3.7" fill="#e9ecf1"/>
<rect x="628" y="512" width="9" height="15" fill="#242424"/>
<path d="M628.6 513.5h7.8M628.6 516h7.8M628.6 518.5h7.8M628.6 521h7.8M628.6 523.5h7.8" stroke="#9aa" stroke-width="0.6"/>
<rect x="628.5" y="533" width="9" height="12" fill="#262626"/>
<rect x="643.9" y="490.5" width="5" height="3.2" fill="#2e2e2e"/><rect x="655" y="491" width="6" height="3.2" fill="#2e2e2e"/><rect x="668" y="491" width="7" height="3.6" fill="#2e2e2e"/>
<rect x="630" y="486.5" width="10" height="1.6" fill="#c8d2ea" opacity="0.8"/><rect x="640" y="497" width="11" height="1.5" fill="#dfe7f6"/>
<rect x="652" y="503.5" width="9" height="1.4" fill="#dfe7f6" opacity="0.8"/>
<rect x="654.4" y="514.6" width="11" height="8.6" fill="#262626"/>
<rect x="652.5" y="525.7" width="8" height="3.7" fill="#e6e6e6"/>
<rect x="674.2" y="499.7" width="12.3" height="11" fill="#f2f2f2"/>
<circle cx="681.6" cy="531.2" r="4.9" fill="#1d1d1d"/>
<rect x="676" y="514" width="2.5" height="11" fill="#cfd6e6"/>
<rect x="636" y="496" width="2.4" height="2.6" fill="#f2d232"/><rect x="651.5" y="507.8" width="2.4" height="2.6" fill="#f2d232"/><rect x="647.8" y="530" width="2.4" height="2.6" fill="#f2d232"/><rect x="636.5" y="568" width="2.5" height="2.5" fill="#f2d232"/>
<rect x="642.6" y="530.6" width="3.8" height="25" fill="#8fa0c8" opacity="0.75"/>
<rect x="629" y="548" width="9" height="8" fill="#2a2a2a"/>
<rect x="617" y="545" width="4" height="8" fill="#3b3b3b"/>
<rect x="640" y="564" width="6" height="5" fill="#2a2a2a"/>
<rect x="650" y="557" width="35.5" height="15.5" fill="url(#hdr)"/>
<rect x="634" y="531" width="1.5" height="12" fill="#cfd6e6"/>
<rect x="641" y="548" width="6" height="3" fill="#ddd"/>
<rect x="596.5" y="525" width="16.4" height="39" fill="url(#gterm)"/>
<circle cx="609.5" cy="568.6" r="2.6" fill="#e8282a"/>
<rect x="614.8" y="566.4" width="4.6" height="4.4" fill="#f2cc3a"/>
<rect x="636" y="557" width="7" height="4" fill="#d8d8d8"/>
</svg>

<!-- PSU -->
<svg class="a" style="left:0;top:0" width="728" height="765">
<defs>
<pattern id="bt" width="8.4" height="3.2" patternUnits="userSpaceOnUse" x="615.8" y="602.9">
<rect width="8.4" height="3.2" fill="#4a2210"/><rect x="1" y="0.7" width="6" height="1.5" fill="#8a4418"/></pattern>
<pattern id="slot" width="12.3" height="3.2" patternUnits="userSpaceOnUse" x="640" y="601.5">
<rect x="0" y="1" width="9" height="0.9" fill="#8e8e8e"/></pattern>
</defs>
<rect x="624.5" y="598.3" width="75.3" height="51.5" fill="#bcbcbc"/>
<rect x="614.5" y="649" width="86" height="1.6" fill="#8a8a8a"/>
<rect x="639.5" y="602" width="58" height="13" fill="url(#slot)"/>
<rect x="640" y="634" width="58" height="13" fill="url(#slot)"/>
<rect x="645" y="616.3" width="22" height="0.9" fill="#8e8e8e"/><rect x="670" y="616.3" width="22" height="0.9" fill="#8e8e8e"/>
<rect x="645" y="632.5" width="22" height="0.9" fill="#8e8e8e"/><rect x="670" y="632.5" width="22" height="0.9" fill="#8e8e8e"/>
<rect x="617" y="601" width="8" height="3" fill="#888"/>
<rect x="615.8" y="602.9" width="8.4" height="45.8" fill="url(#bt)"/>
<rect x="624" y="601" width="2" height="48" fill="#1e2a55"/>
<rect x="628.2" y="600.5" width="7.9" height="46.9" fill="#5060d6"/>
<rect x="630" y="603" width="1.2" height="42" fill="#c8d0ff" opacity="0.6"/><rect x="632.5" y="603" width="1.2" height="42" fill="#c8d0ff" opacity="0.5"/>
</svg>

<div class="a" style="left:455.3px;top:478px;font-size:6.2px;line-height:6.4px;letter-spacing:-0.38px;color:#555;font-family:'Liberation Mono',monospace">RS485</div>
<div class="a" style="left:513.8px;top:477.8px;font-size:6.2px;line-height:6.35px;letter-spacing:-0.38px;color:#555;font-family:'Liberation Mono',monospace">RS485A<br>RS485B<br>GND</div>
<div class="a" style="left:455.3px;top:496.8px;font-size:6.2px;line-height:6.4px;letter-spacing:-0.38px;color:#555;font-family:'Liberation Mono',monospace">RVV3*0.3</div>
<div class="a" style="left:563.3px;top:602.6px;font-size:6.6px;line-height:7px;color:#222;font-weight:bold;font-family:'Liberation Mono',monospace">DC12</div>
<div class="a" style="left:564.6px;top:618.8px;font-size:6.6px;line-height:7px;color:#222;font-weight:bold;font-family:'Liberation Mono',monospace">GND</div>

</body></html>
